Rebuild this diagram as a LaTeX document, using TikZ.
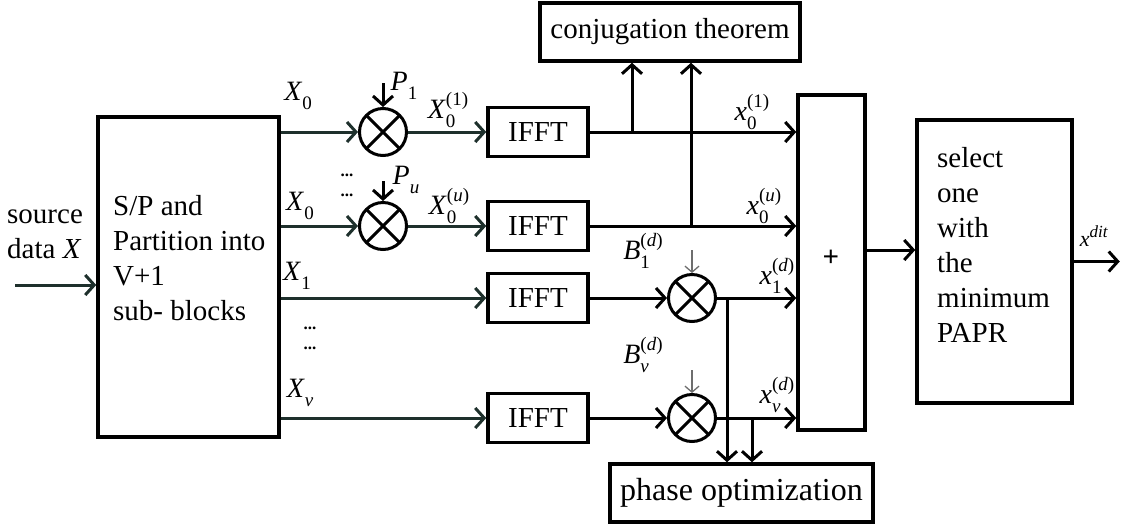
\documentclass[tikz,border=0pt]{standalone}
\usepackage{fontspec}
\setmainfont{Liberation Serif}
\usetikzlibrary{arrows.meta}
\definecolor{wire}{RGB}{30,48,44}
\definecolor{hint}{RGB}{110,110,110}
% symbol with lowered index
\newcommand{\sbl}[2]{\textit{#1}\raisebox{-0.3em}{\fontsize{19}{19}\selectfont #2}}
% symbol with lowered index and raised superscript
\newcommand{\ssl}[3]{\textit{#1}\makebox[0pt][l]{\raisebox{-0.32em}{\fontsize{19}{19}\selectfont #2}}\raisebox{0.45em}{\fontsize{19}{19}\selectfont #3}}
\begin{document}
\begin{tikzpicture}[x=1pt,y=-1pt,
  box/.style={draw,line width=3.5pt,rectangle,inner sep=0pt},
  txt/.style={font=\fontsize{29}{35}\selectfont,inner sep=0pt},
  lbl/.style={font=\fontsize{28}{31}\selectfont,inner sep=0pt},
  dots/.style={font=\fontsize{17}{17}\selectfont\bfseries,inner sep=0pt},
  mult/.style={circle,draw,line width=3pt,minimum size=47pt,inner sep=0pt,
    path picture={\draw[line width=3pt]
      (path picture bounding box.north west) -- (path picture bounding box.south east)
      (path picture bounding box.north east) -- (path picture bounding box.south west);}},
  fftbox/.style={box,minimum width=100pt,minimum height=49pt,font=\fontsize{29}{35}\selectfont},
  ka/.style={line width=3pt,-{Straight Barb[length=9pt,width=20pt]}},
  wa/.style={ka,draw=wire},
  thinarrow/.style={draw=hint,line width=1.3pt,-{Straight Barb[length=6pt,width=14pt]}}]
\useasboundingbox (0,0) rectangle (1125,531);

% input stage
\node[box,minimum width=181pt,minimum height=320pt] (sp) at (188.5,277) {};
\node[txt,align=left,anchor=west] (sptext) at (113,258) {S/P and\\Partition into\\V+1\\sub- blocks};
\node[txt,align=left,anchor=west] (src) at (7,234) {source\\data \textit{X}};
\coordinate (srcin) at (15,285);
\draw[wa] (srcin) -- (srcin -| sp.west);

% multipliers and IFFT blocks
\node[mult] (m1) at (383,132) {};
\node[mult] (m2) at (383,226) {};
\node[mult] (m3) at (692,298) {};
\node[mult] (m4) at (692,418) {};
\node[fftbox] (i1) at (538,132) {IFFT};
\node[fftbox] (i2) at (538,226) {IFFT};
\node[fftbox] (i3) at (538,298) {IFFT};
\node[fftbox] (i4) at (538,418) {IFFT};

% combiner, selector and side blocks
\node[box,minimum width=67pt,minimum height=335pt] (sum) at (831.5,262.5) {};
\node[txt] (plus) at (831,258) {\textbf{+}};
\node[box,minimum width=155pt,minimum height=283pt] (sel) at (994.5,261.5) {};
\node[txt,align=left,anchor=west] (seltext) at (937,245) {select\\one\\with\\the\\minimum\\PAPR};
\node[box,minimum width=260pt,minimum height=58pt,font=\fontsize{29}{35}\selectfont] (conj) at (670,32) {conjugation theorem};
\node[box,minimum width=263pt,minimum height=58pt,font=\fontsize{32}{38}\selectfont] (phase) at (741.5,493) {phase optimization};

% signal rows
\draw[wa] (sp.east |- m1) -- (m1);
\draw[wa] (m1) -- (i1);
\draw[ka] (i1) -- (i1 -| sum.west);
\draw[wa] (sp.east |- m2) -- (m2);
\draw[wa] (m2) -- (i2);
\draw[ka] (i2) -- (i2 -| sum.west);
\draw[wa] (sp.east |- i3) -- (i3);
\draw[ka] (i3) -- (m3);
\draw[ka] (m3) -- (m3 -| sum.west);
\draw[wa] (sp.east |- i4) -- (i4);
\draw[ka] (i4) -- (m4);
\draw[ka] (m4) -- (m4 -| sum.west);

% taps to the side blocks
\coordinate (t1) at (632,132);
\coordinate (t2) at (691,226);
\coordinate (t3) at (727,298);
\coordinate (t4) at (752,418);
\draw[ka] (t1) -- (t1 |- conj.south);
\draw[ka] (t2) -- (t2 |- conj.south);
\draw[ka] (t3) -- (t3 |- phase.north);
\draw[ka] (t4) -- (t4 |- phase.north);

% phase factors
\coordinate (p1) at (383,83);
\coordinate (p2) at (383,181);
\draw[ka] (p1) -- (m1.north);
\draw[ka] (p2) -- (m2.north);
\coordinate (b1) at (692,250);
\coordinate (b2) at (692,370);
\draw[thinarrow] (b1) -- (m3.north);
\draw[thinarrow] (b2) -- (m4.north);

% output
\coordinate (j) at (890,250);
\draw[ka] (j -| sum.east) -- (j -| sel.west);
\draw[ka] (sel.east) -- ++(46,0);

% labels
\node[lbl] (lx0a) at (298,96) {\sbl{X}{0}};
\node[lbl] (lx0b) at (300,206) {\sbl{X}{0}};
\node[lbl] (lx1) at (297,276) {\sbl{X}{1}};
\node[lbl] (lxv) at (300,393) {\sbl{X}{\textit{v}}};
\node[lbl] (lp1) at (404,86) {\sbl{P}{1}};
\node[lbl] (lpu) at (406,180) {\sbl{P}{\textit{u}}};
\node[lbl] (lx01) at (448,110) {\ssl{X}{0}{(1)}};
\node[lbl] (lx0u) at (449,206) {\ssl{X}{0}{(\textit{u})}};
\node[lbl] (ly01) at (752,112) {\ssl{x}{0}{(1)}};
\node[lbl] (ly0u) at (764,206) {\ssl{x}{0}{(\textit{u})}};
\node[lbl] (ly1d) at (777,276) {\ssl{x}{1}{(\textit{d})}};
\node[lbl] (lyvd) at (777,395) {\ssl{x}{\textit{v}}{(\textit{d})}};
\node[lbl] (lb1) at (643,251) {\ssl{B}{1}{(\textit{d})}};
\node[lbl] (lbv) at (643,355) {\ssl{B}{\textit{v}}{(\textit{d})}};
\node[lbl,font=\fontsize{22}{24}\selectfont] (lout) at (1094,236) {\textit{x}\raisebox{0.4em}{\fontsize{17}{17}\selectfont\textit{dit}}};
\node[dots] (d1) at (347,175) {...};
\node[dots] (d2) at (347,195) {...};
\node[dots] (d3) at (310,328) {...};
\node[dots] (d4) at (310,348) {...};
\end{tikzpicture}
\end{document}
